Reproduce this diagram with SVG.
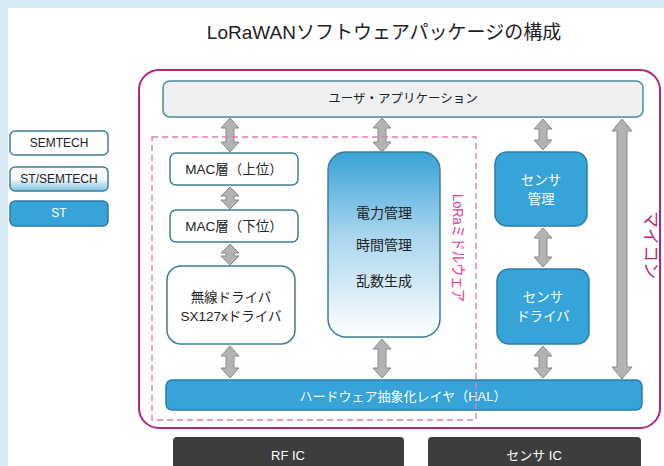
<svg xmlns="http://www.w3.org/2000/svg" width="664" height="466" viewBox="0 0 664 466">
<defs>
<linearGradient id="gMid" x1="0" y1="0" x2="0" y2="1">
<stop offset="0" stop-color="#39a2d8"/>
<stop offset="0.45" stop-color="#a9d5ee"/>
<stop offset="1" stop-color="#ffffff"/>
</linearGradient>
<linearGradient id="gLeg" x1="0" y1="0" x2="0" y2="1">
<stop offset="0" stop-color="#ffffff"/>
<stop offset="0.5" stop-color="#f4fafd"/>
<stop offset="1" stop-color="#7cc2e6"/>
</linearGradient>
<style>
text{font-family:"Liberation Sans","Noto Sans CJK JP",sans-serif;text-anchor:middle;dominant-baseline:central}
.wbox{fill:#ffffff;stroke:#3e7f8f;stroke-width:1.5}
.bbox{fill:#36a3d9;stroke:#2a7ea6;stroke-width:1.5}
.dbox{fill:#3d3d3d}
.t{font-size:13.5px;fill:#222}
.tl{font-size:12px;fill:#222}
.tw{font-size:13.5px;fill:#ffffff}
.arr{fill:#b3b3b3;stroke:#8a8a8a;stroke-width:1}
</style>
</defs>
<rect x="0" y="0" width="664" height="466" fill="#d6ebf6"/>
<rect x="8" y="8" width="656" height="458" fill="#ffffff"/>
<text x="384" y="32" style="font-size:19px;fill:#222">LoRaWANソフトウェアパッケージの構成</text>

<g id="legend">
<g id="legend-semtech"><rect class="wbox" x="10" y="131" width="98" height="24" rx="5"/><text class="tl" x="59" y="143">SEMTECH</text></g>
<g id="legend-st-semtech"><rect x="10" y="167" width="98" height="24" rx="5" fill="url(#gLeg)" stroke="#3e7f8f" stroke-width="1.5"/><text class="tl" x="59" y="179">ST/SEMTECH</text></g>
<g id="legend-st"><rect class="bbox" x="10" y="201" width="98" height="25" rx="5"/><text class="tl" x="59" y="213" style="fill:#fff">ST</text></g>
</g>

<g id="mcu">
<rect x="139" y="70" width="521" height="358" rx="20" fill="none" stroke="#b0267f" stroke-width="2"/>
<text transform="translate(650,245) rotate(90)" style="font-size:17px;fill:#b0267f">マイコン</text>
</g>

<g id="user-app"><rect x="163" y="81" width="480" height="36" rx="7" fill="#eef0f2" stroke="#4a8a99" stroke-width="1.5"/><text class="t" x="403" y="99" style="font-size:12.5px">ユーザ・アプリケーション</text></g>

<g id="mac-upper"><rect class="wbox" x="170" y="153" width="128" height="32" rx="6"/><text class="t" x="234" y="169">MAC層（上位）</text></g>
<g id="mac-lower"><rect class="wbox" x="170" y="210" width="128" height="32" rx="6"/><text class="t" x="234" y="226">MAC層（下位）</text></g>
<g id="radio-driver"><rect class="wbox" x="167" y="266" width="128" height="78" rx="14"/><text class="t" x="231" y="297">無線ドライバ</text><text class="t" x="231" y="316">SX127xドライバ</text></g>

<g id="services"><rect x="328" y="152" width="112" height="185" rx="18" fill="url(#gMid)" stroke="#3e7f8f" stroke-width="1.5"/>
<text class="t" x="384" y="213" style="font-size:14px">電力管理</text><text class="t" x="384" y="245" style="font-size:14px">時間管理</text><text class="t" x="384" y="281" style="font-size:14px">乱数生成</text></g>

<g id="sensor-mgr"><rect class="bbox" x="495" y="152" width="92" height="74" rx="12"/><text class="tw" x="541" y="180">センサ</text><text class="tw" x="541" y="199">管理</text></g>
<g id="sensor-driver"><rect class="bbox" x="497" y="269" width="92" height="75" rx="12"/><text class="tw" x="543" y="297">センサ</text><text class="tw" x="543" y="316">ドライバ</text></g>

<g id="hal"><rect class="bbox" x="166" y="380" width="476" height="30" rx="6"/><text class="tw" x="403" y="396" style="font-size:13px">ハードウェア抽象化レイヤ（HAL）</text></g>

<g id="rf-ic"><rect class="dbox" x="173" y="437" width="231" height="35" rx="4"/><text class="tw" x="288" y="455" style="font-size:13px">RF IC</text></g>
<g id="sensor-ic"><rect class="dbox" x="428" y="437" width="213" height="35" rx="4"/><text class="tw" x="534" y="455" style="font-size:13px">センサ IC</text></g>

<g id="connectors">
<path class="arr" d="M230,118 L239,128 L234,128 L234,142 L239,142 L230,152 L221,142 L226,142 L226,128 L221,128 Z"/>
<path class="arr" d="M230,187 L239,196 L234,196 L234,200 L239,200 L230,209 L221,200 L226,200 L226,196 L221,196 Z"/>
<path class="arr" d="M230,244 L239,253 L234,253 L234,256 L239,256 L230,265 L221,256 L226,256 L226,253 L221,253 Z"/>
<path class="arr" d="M230,346 L239,356 L234,356 L234,368 L239,368 L230,378 L221,368 L226,368 L226,356 L221,356 Z"/>
<path class="arr" d="M382,118 L391,128 L386,128 L386,142 L391,142 L382,152 L373,142 L378,142 L378,128 L373,128 Z"/>
<path class="arr" d="M382,339 L391,349 L386,349 L386,368 L391,368 L382,378 L373,368 L378,368 L378,349 L373,349 Z"/>
<path class="arr" d="M543,119 L552,129 L547,129 L547,140 L552,140 L543,150 L534,140 L539,140 L539,129 L534,129 Z"/>
<path class="arr" d="M543,228 L552,238 L547,238 L547,257 L552,257 L543,267 L534,257 L539,257 L539,238 L534,238 Z"/>
<path class="arr" d="M543,346 L552,356 L547,356 L547,368 L552,368 L543,378 L534,368 L539,368 L539,356 L534,356 Z"/>
<path class="arr" d="M622,119 L632,131 L627,131 L627,367 L632,367 L622,379 L612,367 L617,367 L617,131 L612,131 Z"/>
</g>

<g id="middleware">
<rect x="152" y="137" width="324" height="283" fill="none" stroke="#e27bb1" stroke-width="1.4" stroke-dasharray="6,4"/>
<text transform="translate(458,248) rotate(90)" style="font-size:15px;fill:#e0409a" textLength="108" lengthAdjust="spacingAndGlyphs">LoRaミドルウェア</text>
</g>
</svg>
